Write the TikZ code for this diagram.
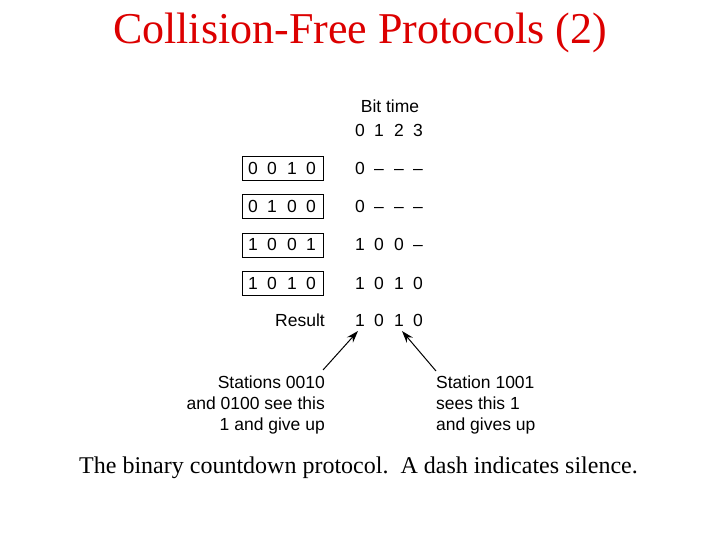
\documentclass[tikz,border=0pt]{standalone}
\usepackage{fontspec}
\setmainfont{Liberation Serif}
\newfontfamily\helv{Liberation Sans}
\definecolor{titlered}{RGB}{220,0,0}
\tikzset{
  lbl/.style={font=\helv\fontsize{17.5}{21}\selectfont, inner sep=0pt},
  dig/.style={font=\helv\fontsize{17.5}{21}\selectfont, inner sep=0pt, anchor=base},
  stbox/.style={draw, line width=1pt, minimum width=81pt, minimum height=24pt, inner sep=0pt},
  note/.style={font=\helv\fontsize{17.5}{21}\selectfont, inner sep=0pt, align=#1},
  arr/.style={-{Stealth[length=12pt,width=8pt]}, line width=1pt}
}
\usetikzlibrary{arrows.meta}
\begin{document}
\begin{tikzpicture}[x=1pt,y=-1pt]
\useasboundingbox (0,0) rectangle (720,540);
\node[text=titlered, font=\fontsize{44}{50}\selectfont, inner sep=0pt] (title) at (360,33) {Collision-Free Protocols (2)};
\node[lbl] (bittime) at (390,106) {Bit time};
\foreach \d/\x in {0/360,1/379,2/399,3/418} \node[dig] (h\d) at (\x,137) {\d};
% boxes
\foreach \i/\y in {1/169,2/207,3/245,4/283} \node[stbox] (b\i) at (282.5,\y) {};
\foreach \r/\y/\a/\b/\c/\d in {1/175/0/0/1/0,2/213/0/1/0/0,3/251/1/0/0/1,4/289/1/0/1/0}{
  \node[dig] (s\r a) at (253,\y) {\a};
  \node[dig] (s\r b) at (272,\y) {\b};
  \node[dig] (s\r c) at (292,\y) {\c};
  \node[dig] (s\r d) at (311,\y) {\d};
}
\foreach \r/\y/\a/\b/\c/\d in {1/175/0/\textendash/\textendash/\textendash,2/213/0/\textendash/\textendash/\textendash,3/251/1/0/0/\textendash,4/289/1/0/1/0}{
  \node[dig] (t\r a) at (360,\y) {\a};
  \node[dig] (t\r b) at (379,\y) {\b};
  \node[dig] (t\r c) at (399,\y) {\c};
  \node[dig] (t\r d) at (418,\y) {\d};
}
\node[lbl, anchor=base east] (result) at (325,326) {Result};
\node[dig] (ra) at (360,326) {1};
\node[dig] (rb) at (379,326) {0};
\node[dig] (rc) at (399,326) {1};
\node[dig] (rd) at (418,326) {0};
\node[note=right, anchor=north east] (left) at (325,376) {Stations 0010\\and 0100 see this\\1 and give up};
\node[note=left, anchor=north west] (right) at (436,376) {Station 1001\\sees this 1\\and gives up};
\coordinate (lt) at (323,370);
\coordinate (rt) at (436,371);
\draw[arr] (lt) -- (358,331);
\draw[arr] (rt) -- (402,331);
\node[font=\fontsize{24}{28}\selectfont, inner sep=0pt] (caption) at (358.5,468) {The binary countdown protocol.\ \ A dash indicates silence.};
\end{tikzpicture}
\end{document}
